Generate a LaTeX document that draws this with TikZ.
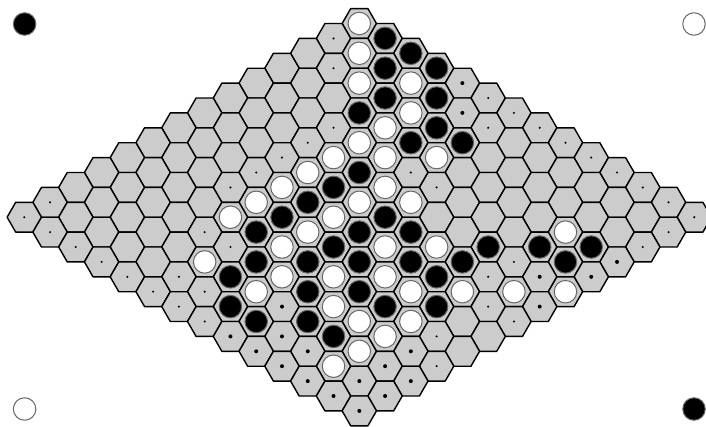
\documentclass[tikz,border=0pt]{standalone}

\begin{document}
\begin{tikzpicture}[x=1pt, y=-1pt, line join=round,
  hexcell/.style={fill=black!20, draw=black, line width=1.4pt},
  stone/.style={circle, inner sep=0pt, minimum size=22.5pt, draw=black!60, line width=1pt},
  bstone/.style={stone, fill=black},
  wstone/.style={stone, fill=white},
  smalldot/.style={circle, inner sep=0pt, minimum size=2.3pt, fill=black},
  bigdot/.style={circle, inner sep=0pt, minimum size=4pt, fill=black}]
  \useasboundingbox (0,0) rectangle (706,426);

  % corner stones mark the sides of each player
  \node[bstone] (cornerbl) at (24.6,24) {};
  \node[wstone] (cornerwh) at (694,24) {};
  \node[wstone] (cornerwl) at (24.6,409) {};
  \node[bstone] (cornerbr) at (694,409) {};

  % the board: cell (i,j), i runs down to the right, j down to the left
  \begin{scope}[shift={(359.3,23.5)}, x={(25.77pt,-14.9pt)}, y={(-25.77pt,-14.9pt)}]
    \foreach \i in {0,...,13}
      \foreach \j in {0,...,13}
        \draw[hexcell] (\i,\j) +(1/3,-1/3) -- +(2/3,1/3) -- +(1/3,2/3)
          -- +(-1/3,1/3) -- +(-2/3,-1/3) -- +(-1/3,-2/3) -- cycle;

    % black stones
    \foreach \i/\j in {1/0,2/0,2/1,3/0,3/2,4/1,3/3,5/2,5/3,6/2,5/5,5/6,5/7,
        5/8,7/6,5/9,7/7,8/6,7/8,10/5,11/4,12/3,6/10,7/9,8/8,9/7,10/6,12/4,
        6/11,10/7,8/10,9/9,7/12,10/9,11/8,8/12,9/11,10/11}
      \node[bstone] (b\i-\j) at (\i,\j) {};

    % white stones
    \foreach \i/\j in {0/0,1/1,2/2,3/1,4/2,4/3,4/4,4/5,5/4,6/3,4/6,4/7,6/5,
        4/8,6/6,7/5,4/9,6/7,6/8,11/3,6/9,8/7,9/6,5/11,7/10,8/9,9/8,7/11,
        10/8,11/7,12/6,13/5,9/10,10/10,11/9,11/10,11/11,11/12}
      \node[wstone] (w\i-\j) at (\i,\j) {};

    % small marks
    \foreach \i/\j in {0/1,1/2,5/0,6/0,3/4,6/1,7/0,3/5,8/0,3/6,9/0,3/7,6/4,
        10/0,3/8,7/4,11/0,0/12,12/0,0/13,13/0,1/13,4/10,13/1,2/13,5/10,
        13/2,3/13,11/5,4/13,5/12,11/6,5/13,6/12,6/13,12/7,7/13,13/7,12/9,13/10}
      \node[smalldot] (s\i-\j) at (\i,\j) {};

    % large marks
    \foreach \i/\j in {4/0,5/1,13/3,12/5,13/4,8/11,13/6,8/13,9/12,9/13,10/12,
        12/10,10/13,12/11,11/13,12/12,13/11,12/13,13/12,13/13}
      \node[bigdot] (l\i-\j) at (\i,\j) {};
  \end{scope}
\end{tikzpicture}
\end{document}
